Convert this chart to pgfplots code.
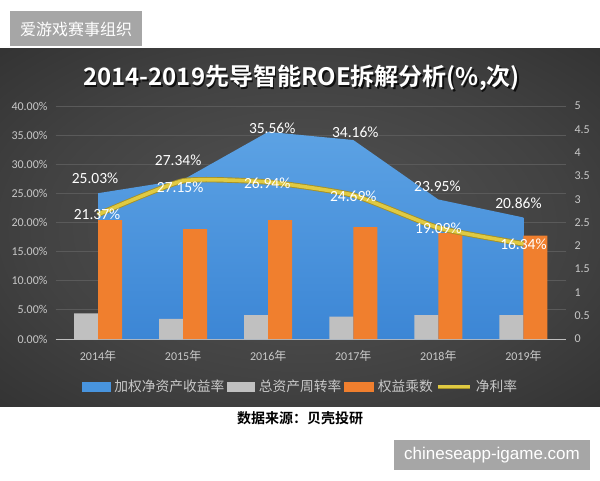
\documentclass[border=0pt]{standalone}
\usepackage{fontspec}
\setmainfont{Carlito}
\newfontfamily\cjk{Noto Sans CJK SC}[BoldFont={Noto Sans CJK SC Bold}]
\newfontfamily\arialf{Liberation Sans}
\usepackage{pgfplots}
\pgfplotsset{compat=1.18}
\usepackage{pgfplotstable}

\definecolor{roetop}{RGB}{92,162,228}
\definecolor{roebot}{RGB}{60,134,213}
\definecolor{roeleg}{RGB}{72,148,222}
\definecolor{barorange}{RGB}{240,127,46}
\definecolor{bargray}{RGB}{192,192,192}
\definecolor{nmyellow}{RGB}{224,202,66}
\definecolor{nmedge}{RGB}{165,145,40}
\definecolor{lblgray}{RGB}{200,200,200}
\definecolor{gridgray}{RGB}{90,90,90}
\definecolor{axisgray}{RGB}{190,190,190}
\definecolor{boxgray}{RGB}{166,166,166}
\definecolor{panelin}{RGB}{84,84,84}
\definecolor{panelmid}{RGB}{66,66,66}
\definecolor{panelout}{RGB}{36,36,36}

\pgfdeclareradialshading{panelshade}{\pgfpoint{0bp}{0bp}}{color(0bp)=(panelin); color(22bp)=(panelmid); color(50bp)=(panelout)}

\pgfplotstableread{
x roe dx dy
0 25.03 -3 15
1 27.34 -5 19
2 35.56 4 4
3 34.16 2 8
4 23.95 -1 13.5
5 20.86 -5 14.5
}\roetable

\pgfplotstableread{
x nm dx dy
0 21.37 -1 0
1 27.15 -3 -6
2 26.94 -1 -1
3 24.69 0 -1
4 19.09 0 0
5 16.34 0 0
}\nmtable

\pgfplotstableread{
x turnover multiplier
0 0.55 2.55
1 0.43 2.36
2 0.51 2.55
3 0.48 2.40
4 0.51 2.27
5 0.51 2.22
}\bartable

\pgfplotsset{
  common/.style={
    at={(55.5pt,141pt)}, anchor=south west, scale only axis,
    width=510.5pt, height=233pt,
    xmin=-0.5, xmax=5.5,
    /pgf/number format/assume math mode=true,
  },
}

\begin{document}
\begin{tikzpicture}
\fill[white] (0pt,0pt) rectangle (600pt,480pt);
\shade[shading=panelshade] (0pt,74pt) rectangle (600pt,431pt);
\fill[boxgray] (10pt,434pt) rectangle (142pt,468.5pt);
\node[text=white, font=\cjk\fontsize{16}{16}\selectfont] at (76pt,451pt) {爱游戏赛事组织};

% title
\node[text=black, opacity=0.75, font=\cjk\bfseries\fontsize{24}{24}\selectfont] at (303pt,400.5pt) {2014-2019先导智能ROE拆解分析(\%,次)};
\node[text=white, font=\cjk\bfseries\fontsize{24}{24}\selectfont] at (301.5pt,402pt) {2014-2019先导智能ROE拆解分析(\%,次)};

% axis 1: left scale, grid, ROE area
\begin{axis}[
  common,
  ymin=0, ymax=40,
  axis x line*=bottom, axis y line*=left,
  x axis line style={draw=axisgray, line width=1pt, -},
  y axis line style={draw=none},
  major tick length=0pt,
  xtick={0,1,2,3,4,5},
  xticklabels={2014{\cjk 年},2015{\cjk 年},2016{\cjk 年},2017{\cjk 年},2018{\cjk 年},2019{\cjk 年}},
  ytick={0,5,10,15,20,25,30,35,40},
  ymajorgrids, grid style={draw=gridgray, line width=0.8pt},
  tick label style={text=lblgray, font=\fontsize{12}{12}\selectfont},
  yticklabel={\pgfmathprintnumber[fixed,fixed zerofill,precision=2]{\tick}\%},
  yticklabel style={xshift=-4.5pt},
  xticklabel style={yshift=-8pt},
  clip=false,
]
\addplot[draw=none, top color=roetop, bottom color=roebot] table[x=x,y=roe]{\roetable} \closedcycle;
\addplot[draw=none, point meta=y,
  nodes near coords={\pgfmathprintnumber[fixed,fixed zerofill,precision=2]{\pgfplotspointmeta}\%},
  visualization depends on={\thisrow{dx}\as\lx},
  visualization depends on={\thisrow{dy}\as\ly},
  every node near coord/.style={anchor=center, xshift=\lx, yshift=\ly, text=white, font=\fontsize{15.5}{15.5}\selectfont}]
  table[x=x,y=roe]{\roetable};
\end{axis}

% axis 2: right scale, bars, legend
\begin{axis}[
  common,
  ymin=0, ymax=5,
  axis y line*=right, axis x line=none,
  y axis line style={draw=none},
  major tick length=0pt,
  ytick={0,0.5,1,1.5,2,2.5,3,3.5,4,4.5,5},
  yticklabel style={text=lblgray, font=\fontsize{12}{12}\selectfont, xshift=5pt},
  legend columns=4,
  legend cell align=left,
  legend style={at={(axis description cs:0.48,-0.205)}, anchor=center, draw=none, fill=none,
    text=lblgray, font=\cjk\fontsize{13.75}{14}\selectfont,
    /tikz/every odd column/.append style={column sep=2pt},
    /tikz/every even column/.append style={column sep=1pt}},
]
\addplot[ybar, bar width=24pt, bar shift=-12pt, fill=bargray, draw=none, forget plot] table[x=x,y=turnover]{\bartable};
\addplot[ybar, bar width=24pt, bar shift=12pt, fill=barorange, draw=none, forget plot] table[x=x,y=multiplier]{\bartable};
\addlegendimage{legend image code/.code={\fill[roeleg] (0pt,-4.5pt) rectangle (28pt,4.5pt);}}
\addlegendentry{加权净资产收益率}
\addlegendimage{legend image code/.code={\fill[bargray] (0pt,-4.5pt) rectangle (27pt,4.5pt);}}
\addlegendentry{总资产周转率}
\addlegendimage{legend image code/.code={\fill[barorange] (0pt,-4.5pt) rectangle (29pt,4.5pt);}}
\addlegendentry{权益乘数}
\addlegendimage{legend image code/.code={\draw[nmedge, line width=4pt] (0pt,0pt) -- (32pt,0pt); \draw[nmyellow, line width=2.6pt] (0pt,0pt) -- (32pt,0pt);}}
\addlegendentry{净利率}
\end{axis}

% axis 3: net margin line
\begin{axis}[
  common,
  ymin=0, ymax=40,
  hide axis, clip=false,
]
\addplot[nmedge, line width=5.4pt, smooth, tension=0.3, mark=none] table[x=x,y=nm]{\nmtable};
\addplot[nmyellow, line width=3.6pt, smooth, tension=0.3, mark=none] table[x=x,y=nm]{\nmtable};
\addplot[draw=none, point meta=y,
  nodes near coords={\pgfmathprintnumber[fixed,fixed zerofill,precision=2]{\pgfplotspointmeta}\%},
  visualization depends on={\thisrow{dx}\as\lx},
  visualization depends on={\thisrow{dy}\as\ly},
  every node near coord/.style={anchor=center, xshift=\lx, yshift=\ly, text=white, font=\fontsize{15.5}{15.5}\selectfont}]
  table[x=x,y=nm]{\nmtable};
\end{axis}

\node[text=black, font=\cjk\bfseries\fontsize{14}{14}\selectfont] at (300pt,62pt) {数据来源：贝壳投研};
\fill[boxgray] (394pt,10pt) rectangle (590pt,40pt);
\node[text=white, font=\arialf\fontsize{17}{17}\selectfont] at (492pt,25pt) {chineseapp-igame.com};
\end{tikzpicture}
\end{document}
